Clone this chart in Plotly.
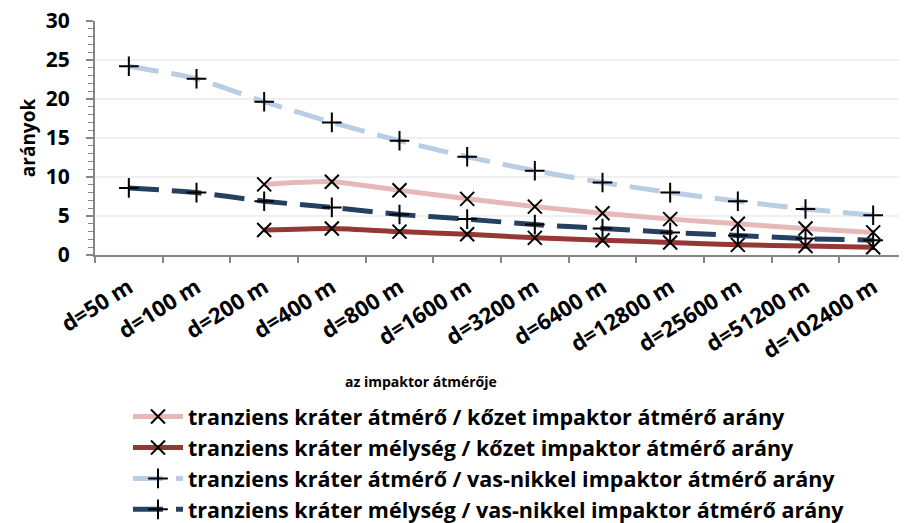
import plotly.graph_objects as go

categories = ["d=50 m", "d=100 m", "d=200 m", "d=400 m", "d=800 m", "d=1600 m",
              "d=3200 m", "d=6400 m", "d=12800 m", "d=25600 m", "d=51200 m", "d=102400 m"]

kozet_atmero = [None, None, 9.05, 9.4, 8.3, 7.2, 6.2, 5.35, 4.6, 4.0, 3.4, 2.9]
kozet_melyseg = [None, None, 3.2, 3.4, 3.0, 2.65, 2.2, 1.9, 1.6, 1.3, 1.15, 1.0]
vasnikkel_atmero = [24.2, 22.6, 19.65, 17.0, 14.65, 12.6, 10.8, 9.3, 8.0, 6.9, 5.9, 5.1]
vasnikkel_melyseg = [8.6, 8.0, 6.9, 6.1, 5.2, 4.6, 3.9, 3.4, 2.9, 2.5, 2.1, 1.9]

names = [
    "tranziens kráter átmérő / kőzet impaktor átmérő arány",
    "tranziens kráter mélység / kőzet impaktor átmérő arány",
    "tranziens kráter átmérő / vas-nikkel impaktor átmérő arány",
    "tranziens kráter mélység / vas-nikkel impaktor átmérő arány",
]

FONT = "Open Sans"

fig = go.Figure()
series = [
    (kozet_atmero, names[0], "#E6B9B8", "solid", "x-thin"),
    (kozet_melyseg, names[1], "#953735", "solid", "x-thin"),
    (vasnikkel_atmero, names[2], "#B9CDE5", "30px,13px", "cross-thin"),
    (vasnikkel_melyseg, names[3], "#254061", "30px,13px", "cross-thin"),
]
for vals, name, color, dash, sym in series:
    fig.add_trace(go.Scatter(
        x=categories, y=vals, name=name, mode="lines+markers",
        line=dict(color=color, width=5, dash=dash, shape="spline", smoothing=0.6),
        marker=dict(symbol=sym, size=14, color="black",
                    line=dict(color="black", width=2)),
        connectgaps=False,
    ))

# the page body has an 8px default margin, so the figure is 8px smaller and shifted
fig.update_layout(
    width=899, height=515,
    margin=dict(l=87, r=0, t=13, b=268, autoexpand=False),
    paper_bgcolor="white", plot_bgcolor="white",
    font=dict(family=FONT, color="black"),
    showlegend=True,
    legend=dict(
        xref="paper", yref="paper",
        x=(128 - 95) / 812, y=(255 - 396) / 234, xanchor="left", yanchor="top",
        font=dict(size=21.5, family=FONT, weight="bold"),
        tracegroupgap=0, itemwidth=50,
        bgcolor="rgba(0,0,0,0)",
    ),
    xaxis=dict(
        type="category", range=[-0.5, 11.5], automargin=False,
        showline=True, linecolor="#868686", linewidth=2,
        ticks="outside", tickson="boundaries", ticklen=6, tickcolor="#868686", tickwidth=2,
        tickangle=-32, ticklabelstandoff=9,
        tickfont=dict(size=22, family=FONT, weight="bold"),
        showgrid=False, zeroline=False,
    ),
    yaxis=dict(
        range=[0, 30], tickvals=[0, 5, 10, 15, 20, 25, 30], automargin=False,
        showline=True, linecolor="#868686", linewidth=2,
        ticks="outside", ticklen=7, tickcolor="#868686", tickwidth=2,
        ticklabelstandoff=12, ticklabeloverflow="allow",
        minor=dict(dtick=1, ticks="outside", ticklen=5, tickcolor="#868686", tickwidth=1, showgrid=False),
        tickfont=dict(size=21, family=FONT, weight="bold"),
        showgrid=True, gridcolor="#F0F0F0", gridwidth=2,
        zeroline=False,
        title=dict(text="arányok", font=dict(size=19, family=FONT, weight="bold"), standoff=5),
    ),
    annotations=[dict(
        text="az impaktor átmérője", xref="paper", yref="paper",
        x=(421 - 95) / 812, y=(255 - 382) / 234, xanchor="center", yanchor="middle",
        showarrow=False, font=dict(size=14, family=FONT, weight="bold"),
    )],
)

fig.write_html("out.html")
